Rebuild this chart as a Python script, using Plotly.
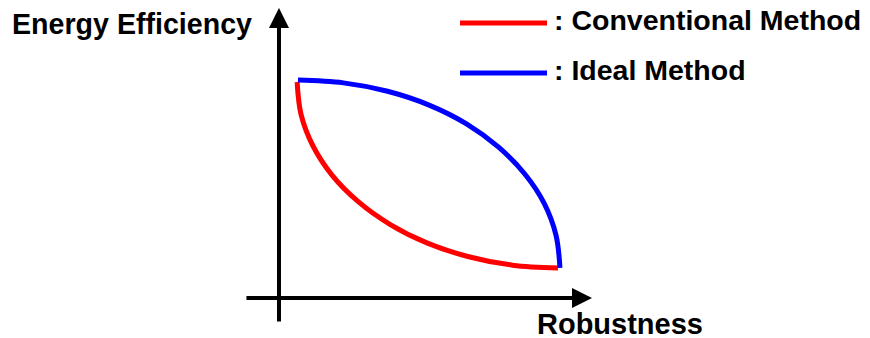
import plotly.graph_objects as go

# Data (x = robustness, y = energy efficiency, arbitrary units)
conv_x = [0.65, 0.79, 1.21, 1.90, 2.84, 3.99, 5.32, 6.80, 8.37, 10.00]
conv_y = [10.00, 8.50, 7.06, 5.69, 4.46, 3.40, 2.54, 1.91, 1.52, 1.39]
ideal_x = [0.68, 2.31, 3.89, 5.38, 6.72, 7.87, 8.81, 9.51, 9.93, 10.07]
ideal_y = [10.09, 9.96, 9.57, 8.93, 8.06, 6.98, 5.74, 4.37, 2.90, 1.39]
series_names = ["Conventional Method", "Ideal Method"]
x_label = "Robustness"
y_label = "Energy Efficiency"

# page body has an 8px margin, so the figure is drawn 8px smaller and offset
OFF = 8
W, H = 870 - OFF, 338 - OFF
FONT = "Arial, 'Liberation Sans', sans-serif"

fig = go.Figure()
fig.add_trace(go.Scatter(x=conv_x, y=conv_y, mode="lines",
                         line=dict(color="#ff0000", width=5, shape="spline"),
                         showlegend=False))
fig.add_trace(go.Scatter(x=ideal_x, y=ideal_y, mode="lines",
                         line=dict(color="#0000ff", width=5, shape="spline"),
                         showlegend=False))

# axes arrows
fig.add_annotation(x=0, y=13.43, ax=0, ay=-1.16, xref="x", yref="y", axref="x", ayref="y",
                   showarrow=True, arrowhead=2, arrowsize=1, arrowwidth=4, arrowcolor="black", text="")
fig.add_annotation(x=11.22, y=0, ax=-1.22, ay=0, xref="x", yref="y", axref="x", ayref="y",
                   showarrow=True, arrowhead=2, arrowsize=1, arrowwidth=4, arrowcolor="black", text="")

def px(x):
    return (x - OFF) / W

def py(y):
    return 1 - (y - OFF) / H

fig.add_annotation(x=px(10), y=py(24), xref="paper", yref="paper", xanchor="left", yanchor="middle",
                   text="<b>" + y_label + "</b>", showarrow=False,
                   font=dict(family=FONT, size=28.6, color="black"))
fig.add_annotation(x=px(535), y=py(324), xref="paper", yref="paper", xanchor="left", yanchor="middle",
                   text="<b>" + x_label + "</b>", showarrow=False,
                   font=dict(family=FONT, size=29, color="black"))

# legend
colors = ["#ff0000", "#0000ff"]
rows = [20, 70]
lines_y = [23, 73]
for name, c, yy, ly in zip(series_names, colors, rows, lines_y):
    fig.add_shape(type="line", xref="paper", yref="paper", x0=px(460), x1=px(547),
                  y0=py(ly), y1=py(ly), line=dict(color=c, width=5))
    fig.add_annotation(x=px(552), y=py(yy), xref="paper", yref="paper", xanchor="left", yanchor="middle",
                       text="<b>: " + name + "</b>", showarrow=False,
                       font=dict(family=FONT, size=28.5, color="black"))

fig.update_layout(
    width=W, height=H, margin=dict(l=0, r=0, t=0, b=0),
    paper_bgcolor="white", plot_bgcolor="white",
    xaxis=dict(range=[-9.713, 21.183], visible=False, fixedrange=True),
    yaxis=dict(range=[-1.852, 13.426], visible=False, fixedrange=True),
)
fig.write_html("out.html")
